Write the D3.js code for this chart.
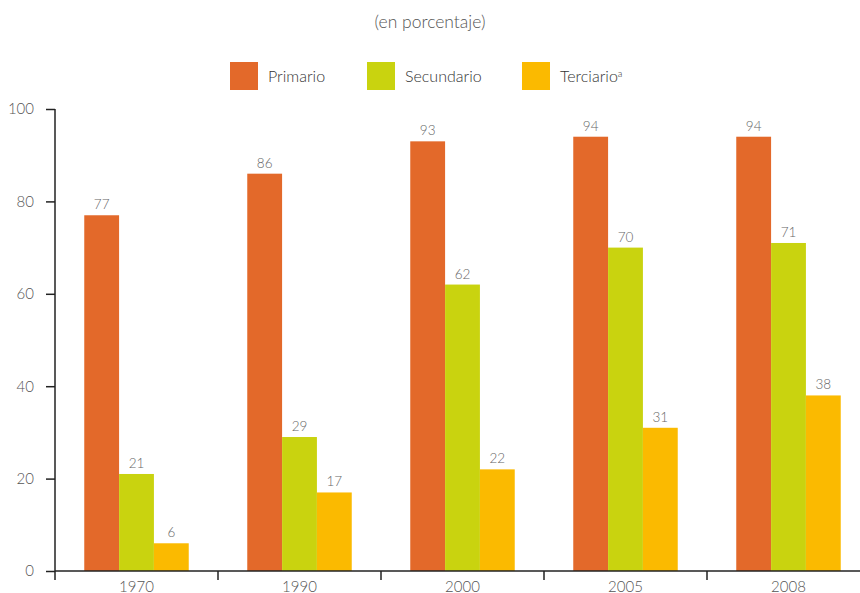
<!DOCTYPE html>
<html>
<head>
<meta charset="utf-8">
<script src="https://cdn.jsdelivr.net/npm/d3@7"></script>
<style>
  html, body { margin: 0; padding: 0; background: #fff; }
  svg { display: block; font-family: Lato, "Open Sans", sans-serif; }
</style>
</head>
<body>
<svg id="chart" width="860" height="593"></svg>
<script>
// Matrícula por nivel educativo (en porcentaje)
const years = ["1970", "1990", "2000", "2005", "2008"];
const seriesNames = ["Primario", "Secundario", "Terciario"];
const primario   = [77, 86, 93, 94, 94];
const secundario = [21, 29, 62, 70, 71];
const terciario  = [6, 17, 22, 31, 38];
const yTicks = [0, 20, 40, 60, 80, 100];
const colors = ["#E3692A", "#C9D30F", "#FBBA00"];

const values = [primario, secundario, terciario];
const rows = years.map((yr, i) => ({
  year: yr,
  vals: seriesNames.map((s, k) => ({ series: s, value: values[k][i], color: colors[k] }))
}));

const svg = d3.select("#chart");
const plotLeft = 55, plotRight = 870, plotTop = 109, plotBottom = 571;

const x0 = d3.scaleBand().domain(years).range([plotLeft, plotRight]).padding(0);
const x1 = d3.scaleBand().domain(seriesNames).range([0, x0.bandwidth()])
  .paddingInner(0).paddingOuter(0.84);
const y = d3.scaleLinear().domain([0, 100]).range([plotBottom, plotTop]);

// Title
svg.append("text")
  .attr("x", 430).attr("y", 28)
  .attr("text-anchor", "middle")
  .attr("font-size", 17.5).attr("font-weight", 300)
  .attr("fill", "#555")
  .text("(en porcentaje)");

// Legend
const legendX = [230, 367, 522];
const legend = svg.append("g");
seriesNames.forEach((s, k) => {
  const g = legend.append("g").attr("transform", `translate(${legendX[k]},62)`);
  g.append("rect").attr("width", 28).attr("height", 28).attr("fill", colors[k]);
  const t = g.append("text").attr("x", 38).attr("y", 20)
    .attr("font-size", 16).attr("font-weight", 300).attr("fill", "#333");
  t.append("tspan").text(s);
  if (s === "Terciario") {
    t.append("tspan").attr("font-size", 9.5).attr("dy", -5).text("a");
  }
});

// Bars
const groups = svg.append("g").selectAll("g").data(rows).join("g")
  .attr("transform", d => `translate(${x0(d.year)},0)`);

groups.selectAll("rect").data(d => d.vals).join("rect")
  .attr("x", d => x1(d.series))
  .attr("y", d => y(d.value))
  .attr("width", x1.bandwidth())
  .attr("height", d => y(0) - y(d.value))
  .attr("fill", d => d.color);

groups.selectAll("text").data(d => d.vals).join("text")
  .attr("x", d => x1(d.series) + x1.bandwidth() / 2)
  .attr("y", d => y(d.value) - 6)
  .attr("text-anchor", "middle")
  .attr("font-size", 13.5).attr("font-weight", 300)
  .attr("fill", "#666")
  .text(d => d.value);

// Y axis
const yAxis = svg.append("g").attr("transform", `translate(${plotLeft},0)`)
  .call(d3.axisLeft(y).tickValues(yTicks).tickSize(9).tickPadding(12));
yAxis.select(".domain").attr("stroke", "#222").attr("stroke-width", 1.5)
  .attr("d", `M0,${plotTop}V${plotBottom}`);
yAxis.selectAll(".tick line").attr("stroke", "#222").attr("stroke-width", 1.5);
yAxis.selectAll(".tick text")
  .attr("font-family", "Lato, 'Open Sans', sans-serif")
  .attr("font-size", 15).attr("font-weight", 300).attr("fill", "#555");

// X axis: ticks at category boundaries, labels centred in each band
const xAxis = svg.append("g").attr("transform", `translate(0,${plotBottom})`);
xAxis.append("line").attr("x1", plotLeft).attr("x2", 860)
  .attr("stroke", "#222").attr("stroke-width", 1.5);
xAxis.selectAll(".bt").data(years).join("line").attr("class", "bt")
  .attr("x1", d => x0(d)).attr("x2", d => x0(d))
  .attr("y1", 0).attr("y2", 9)
  .attr("stroke", "#222").attr("stroke-width", 1.5);
xAxis.selectAll(".lbl").data(years).join("text").attr("class", "lbl")
  .attr("x", d => x0(d) + x0.bandwidth() / 2)
  .attr("y", 20.5)
  .attr("text-anchor", "middle")
  .attr("font-size", 15).attr("font-weight", 300).attr("fill", "#555")
  .text(d => d);
</script>
</body>
</html>
